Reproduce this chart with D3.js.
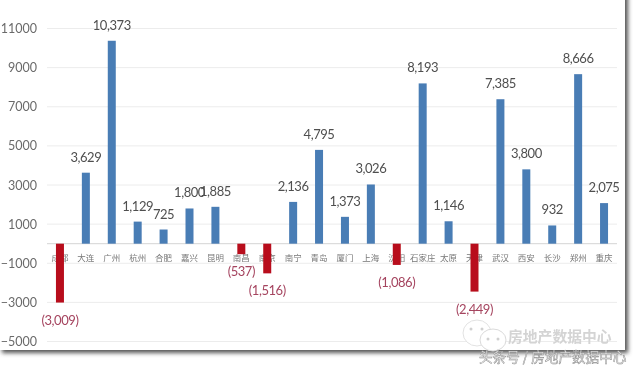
<!DOCTYPE html>
<html>
<head>
<meta charset="utf-8">
<script src="https://cdnjs.cloudflare.com/ajax/libs/d3/7.8.5/d3.min.js"></script>
<style>
html, body { margin: 0; padding: 0; background: #fff; }
svg { display: block; }
.y-axis text { font: 12.5px Lato, sans-serif; fill: #6b6b6b; }
.cat { font: 8.5px "Noto Sans CJK SC", sans-serif; fill: #777; }
.val { font: 13px Lato, sans-serif; letter-spacing: -0.45px; fill: #4f4f4f; }
.val.neg { fill: #a5445f; }
</style>
</head>
<body>
<div id="chart"></div>
<script>
var cities = ["成都", "大连", "广州", "杭州", "合肥", "嘉兴", "昆明", "南昌", "南京", "南宁", "青岛",
  "厦门", "上海", "沈阳", "石家庄", "太原", "天津", "武汉", "西安", "长沙", "郑州", "重庆"];
var values = [-3009, 3629, 10373, 1129, 725, 1800, 1885, -537, -1516, 2136, 4795,
  1373, 3026, -1086, 8193, 1146, -2449, 7385, 3800, 932, 8666, 2075];
var yTicks = [11000, 9000, 7000, 5000, 3000, 1000, -1000, -3000, -5000];

var width = 640, height = 370;
var left = 47, right = 617;

var svg = d3.select("#chart").append("svg")
  .attr("width", width)
  .attr("height", height)
  .attr("viewBox", `0 0 ${width} ${height}`);

var defs = svg.append("defs");
defs.append("filter").attr("id", "soft").append("feGaussianBlur").attr("stdDeviation", 0.45);
defs.append("filter").attr("id", "shadow").append("feGaussianBlur").attr("stdDeviation", 2.2);

var x = d3.scaleBand().domain(cities).range([left, right]);
var y = d3.scaleLinear().domain([-5000, 11000]).range([341.5, 28.5]);
var barWidth = 8;

// page shadow behind the pasted chart
svg.append("path")
  .attr("d", "M2,-10H628V353H2Z")
  .attr("fill", "#555")
  .attr("filter", "url(#shadow)");
svg.append("rect")
  .attr("x", -10)
  .attr("y", -10)
  .attr("width", 635)
  .attr("height", 360)
  .attr("fill", "#fff");

var plot = svg.append("g").attr("filter", "url(#soft)");

var yAxis = plot.append("g")
  .attr("class", "y-axis")
  .attr("transform", `translate(${left},0)`)
  .call(d3.axisLeft(y).tickValues(yTicks).tickFormat(d3.format("d")).tickSize(0).tickPadding(10));
yAxis.select(".domain").remove();

plot.append("g").selectAll("line")
  .data(yTicks)
  .join("line")
  .attr("x1", left)
  .attr("x2", right)
  .attr("y1", d => y(d))
  .attr("y2", d => y(d))
  .attr("stroke", "#ececec");

plot.append("line")
  .attr("x1", left)
  .attr("x2", right)
  .attr("y1", y(0))
  .attr("y2", y(0))
  .attr("stroke", "#d4d4d4");

plot.append("g").selectAll("text")
  .data(cities)
  .join("text")
  .attr("class", "cat")
  .attr("x", d => x(d) + x.bandwidth() / 2)
  .attr("y", y(0) + 17)
  .attr("text-anchor", "middle")
  .text(d => d);

plot.append("g").selectAll("rect")
  .data(values)
  .join("rect")
  .attr("x", (d, i) => x(cities[i]) + x.bandwidth() / 2 - barWidth / 2)
  .attr("y", d => y(Math.max(d, 0)))
  .attr("width", barWidth)
  .attr("height", d => Math.abs(y(d) - y(0)))
  .attr("fill", d => d < 0 ? "#b80f1c" : "#4a7db5");

var fmt = d3.format(",");
plot.append("g").selectAll("text")
  .data(values)
  .join("text")
  .attr("class", d => d < 0 ? "val neg" : "val")
  .attr("x", (d, i) => x(cities[i]) + x.bandwidth() / 2)
  .attr("y", d => d < 0 ? y(d) + 22 : y(d) - 11)
  .attr("text-anchor", "middle")
  .text(d => d < 0 ? `(${fmt(-d)})` : fmt(d));

// watermarks
var mark = svg.append("g").attr("filter", "url(#soft)");
mark.append("ellipse").attr("cx", 477).attr("cy", 333).attr("rx", 14).attr("ry", 13)
  .attr("fill", "#fff").attr("stroke", "#e2e2e2");
mark.append("ellipse").attr("cx", 493).attr("cy", 340).attr("rx", 13).attr("ry", 11)
  .attr("fill", "#fff").attr("stroke", "#dadada");
mark.selectAll(".eye")
  .data([[471, 329], [482, 329], [488, 339], [498, 339]])
  .join("circle")
  .attr("class", "eye")
  .attr("cx", d => d[0]).attr("cy", d => d[1]).attr("r", 1.5)
  .attr("fill", "#d0d0d0");
mark.append("text")
  .attr("x", 508).attr("y", 342)
  .attr("font-family", "Noto Sans CJK SC")
  .attr("font-size", 14.8)
  .attr("font-weight", 700)
  .attr("fill", "#d4d4d4")
  .text("房地产数据中心");
mark.append("text")
  .attr("x", 479).attr("y", 362)
  .attr("font-family", "Noto Sans CJK SC")
  .attr("font-size", 13.6)
  .attr("fill", "#fff")
  .attr("stroke", "#8a8a8a")
  .attr("stroke-width", 0.5)
  .text("头条号 / 房地产数据中心");
</script>
</body>
</html>
